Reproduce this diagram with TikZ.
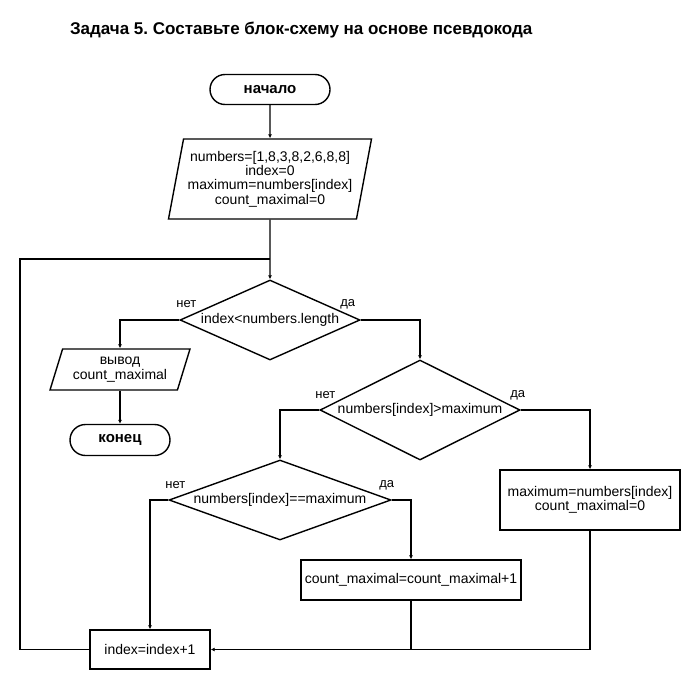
\documentclass[tikz,border=0pt]{standalone}
\usepackage{fontspec}
\setmainfont{Liberation Sans}
\usetikzlibrary{arrows.meta, positioning, shapes.geometric, shapes.misc}
\frenchspacing
\newcommand{\bodyfont}{\fontsize{14}{14.4}\selectfont}

\begin{document}
\begin{tikzpicture}[
      x=1pt, y=-1pt,
      >={Latex[length=4pt,width=4pt]},
      line width=1.4pt,
      terminal/.style={draw, rounded rectangle, minimum width=120pt,
        minimum height=30pt, inner sep=0pt,
        font=\fontsize{15}{17}\selectfont\bfseries},
      iobox/.style={draw, trapezium, trapezium stretches body,
        inner sep=0pt, align=center, font=\bodyfont},
      procbox/.style={draw, rectangle, inner sep=0pt, align=center,
        font=\bodyfont},
      decision/.style={draw, diamond, inner sep=0pt, font=\bodyfont},
      branch/.style={inner sep=0pt, font=\fontsize{13}{14}\selectfont}
    ]
      \useasboundingbox (0,0) rectangle (700,690);
      \node[anchor=west, font=\fontsize{17}{20}\selectfont\bfseries]
        (title) at (66,30) {Задача 5. Составьте блок-схему на основе псевдокода};

      \node[terminal] (start) at (270,89.5) {начало};
      \node[iobox, trapezium left angle=75, trapezium right angle=105,
        minimum width=203pt, minimum height=80pt] (init) at (270,179)
        {numbers=[1,8,3,8,2,6,8,8]\\index=0\\maximum=numbers[index]\\count\_maximal=0};
      \coordinate (merge) at (270,259);
      \coordinate (loop) at (20,259);

      \node[decision, minimum width=180pt, minimum height=80pt, aspect=2.25]
        (cond1) at (270,320) {index<numbers.length};
      \node[iobox, trapezium left angle=63, trapezium right angle=117,
        minimum width=140pt, minimum height=41pt] (out) at (120,369.5)
        {вывод\\count\_maximal};
      \node[terminal, minimum width=100pt, minimum height=31pt] (stop)
        at (120,440) {конец};

      \node[decision, minimum width=200pt, minimum height=100pt, aspect=2]
        (cond2) at (420,410) {numbers[index]>maximum};
      \node[procbox, minimum width=180pt, minimum height=60pt] (newmax)
        at (590,500) {maximum=numbers[index]\\count\_maximal=0};
      \node[decision, minimum width=222pt, minimum height=80pt, aspect=2.775]
        (cond3) at (280,500) {numbers[index]==maximum};
      \node[procbox, minimum width=220pt, minimum height=40pt] (count)
        at (411,580) {count\_maximal=count\_maximal+1};
      \node[procbox, minimum width=120pt, minimum height=39pt] (inc)
        at (150,649.5) {index=index+1};

      % branch labels
      \node[branch] at ([xshift=7pt, yshift=16pt]cond1.west) {нет};
      \node[branch] at ([xshift=-13pt, yshift=16pt]cond1.east) {да};
      \node[branch] at ([xshift=6pt, yshift=15pt]cond2.west) {нет};
      \node[branch] at ([xshift=-3pt, yshift=15pt]cond2.east) {да};
      \node[branch] at ([xshift=7pt, yshift=15pt]cond3.west) {нет};
      \node[branch] at ([xshift=-5pt, yshift=15pt]cond3.east) {да};

      % connectors
      \draw[->] (start) -- (init);
      \draw[->] (init) -- (cond1);
      \draw[->] (cond1.west) -| (out.center |- out.north);
      \draw[->] (out.center |- out.south) -- (stop.north);
      \draw[->] (cond1.east) -| (cond2.north);
      \draw[->] (cond2.west) -| (cond3.north);
      \draw[->] (cond2.east) -| (newmax.north);
      \draw[->] (cond3.west) -| (inc.north);
      \draw[->] (cond3.east) -| (count.north);
      \draw[->] (newmax.south) |- (inc.east);
      \draw (count.south) -- (count.south |- inc.east);
      \draw (inc.west) -| (loop) -- (merge);
    \end{tikzpicture}
\end{document}
